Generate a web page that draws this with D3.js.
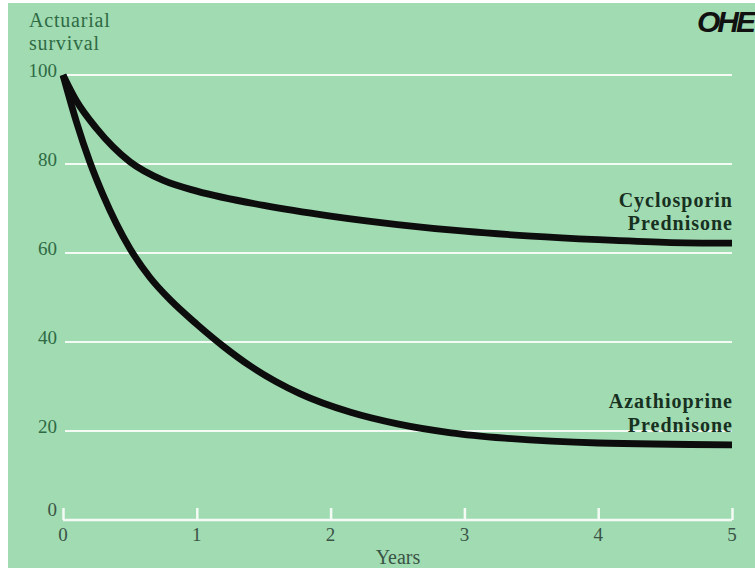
<!DOCTYPE html>
<html>
<head>
<meta charset="utf-8">
<script src="https://cdn.jsdelivr.net/npm/d3@7"></script>
<style>
  html, body { margin: 0; padding: 0; background: #ffffff; }
  svg { display: block; }
</style>
</head>
<body>
<svg id="chart" width="755" height="568"></svg>
<script>
// ---- data ----
const yearTicks = [0, 1, 2, 3, 4, 5];
const survivalTicks = [0, 20, 40, 60, 80, 100];
const cyclosporinYears  = [0, 0.1, 0.25, 0.5, 0.75, 1, 1.5, 2, 2.5, 3, 3.5, 4, 4.5, 5];
const cyclosporinValues = [100, 94.2, 88, 80.5, 76.3, 73.9, 70.7, 68.3, 66.4, 64.9, 63.8, 63, 62.4, 62.2];
const azathioprineYears  = [0, 0.1, 0.2, 0.3, 0.5, 0.65, 0.8, 1, 1.2, 1.4, 1.77, 2.15, 2.5, 2.9, 3.3, 4, 5];
const azathioprineValues = [100, 89.5, 80.5, 73, 61, 54.5, 49.5, 44, 39, 34.6, 28.4, 24.2, 21.6, 19.6, 18.4, 17.3, 16.9];
const seriesLabels = [
  ["Cyclosporin", "Prednisone"],
  ["Azathioprine", "Prednisone"]
];
const yTitle = ["Actuarial", "survival"];
const xTitle = "Years";

const svg = d3.select("#chart");
const W = 755, H = 568;

// background
svg.append("rect").attr("width", W).attr("height", H).attr("fill", "#ffffff");
svg.append("rect").attr("x", 8).attr("y", 3).attr("width", W - 8).attr("height", H - 3).attr("fill", "#a0dbb2");

const x = d3.scaleLinear().domain([0, 5]).range([63, 732]);
const y = d3.scaleLinear().domain([0, 100]).range([520, 75]);

// gridlines
svg.append("g").selectAll("line")
  .data(survivalTicks.filter(d => d > 0))
  .join("line")
  .attr("x1", x(0) + 2).attr("x2", x(5))
  .attr("y1", d => y(d)).attr("y2", d => y(d))
  .attr("stroke", "#f4fbf5").attr("stroke-width", 2.2);

// x axis (ticks pointing up)
const xAxis = d3.axisTop(x).tickValues(yearTicks).tickSize(12).tickFormat("");
const gx = svg.append("g").attr("transform", `translate(0,${y(0)})`).call(xAxis);
gx.select(".domain").attr("stroke", "#f4fbf5").attr("stroke-width", 2.5).attr("d", `M${x(0)},0H${x(5)}`);
gx.selectAll(".tick line").attr("stroke", "#f4fbf5").attr("stroke-width", 2.5);

// x tick labels
svg.append("g").selectAll("text")
  .data(yearTicks).join("text")
  .attr("x", d => x(d)).attr("y", 541)
  .attr("text-anchor", "middle")
  .attr("font-family", "Liberation Serif, serif").attr("font-size", 19)
  .attr("fill", "#3b5446")
  .text(d => d);

svg.append("text").attr("x", 398).attr("y", 564)
  .attr("text-anchor", "middle")
  .attr("font-family", "Liberation Serif, serif").attr("font-size", 20)
  .attr("fill", "#3b5446").text(xTitle);

// y tick labels
svg.append("g").selectAll("text")
  .data(survivalTicks).join("text")
  .attr("x", 57).attr("y", d => y(d) + (d === 0 ? -4 : 2))
  .attr("text-anchor", "end")
  .attr("font-family", "Liberation Serif, serif").attr("font-size", 19)
  .attr("fill", d => d === 0 ? "#3b5446" : "#2e6a43")
  .text(d => d);

svg.append("g").selectAll("text")
  .data(yTitle).join("text")
  .attr("x", 29).attr("y", (d, i) => 27 + i * 23)
  .attr("font-family", "Liberation Serif, serif").attr("font-size", 20)
  .attr("letter-spacing", 0.8)
  .attr("fill", "#2e6a43")
  .text(d => d);

// curves
const line = d3.line().x(d => x(d[0])).y(d => y(d[1])).curve(d3.curveMonotoneX);
const series = [
  d3.zip(cyclosporinYears, cyclosporinValues),
  d3.zip(azathioprineYears, azathioprineValues)
];
svg.append("g").selectAll("path")
  .data(series).join("path")
  .attr("d", line)
  .attr("fill", "none").attr("stroke", "#0d0d0d")
  .attr("stroke-width", 6.8).attr("stroke-linejoin", "miter");

// series labels
const labelBase = [[207, 230], [408, 432]];
seriesLabels.forEach((lines, si) => {
  svg.append("g").selectAll("text")
    .data(lines).join("text")
    .attr("x", 733).attr("y", (d, i) => labelBase[si][i])
    .attr("text-anchor", "end")
    .attr("font-family", "Liberation Serif, serif").attr("font-weight", "bold")
    .attr("font-size", 20).attr("letter-spacing", 1)
    .attr("fill", "#17301f")
    .text(d => d);
});

// logo
svg.append("text").attr("x", 753).attr("y", 32)
  .attr("text-anchor", "end")
  .attr("font-family", "Liberation Sans, sans-serif").attr("font-weight", "bold").attr("font-style", "italic")
  .attr("font-size", 30).attr("letter-spacing", -3)
  .attr("fill", "#111").text("OHE");
</script>
</body>
</html>
